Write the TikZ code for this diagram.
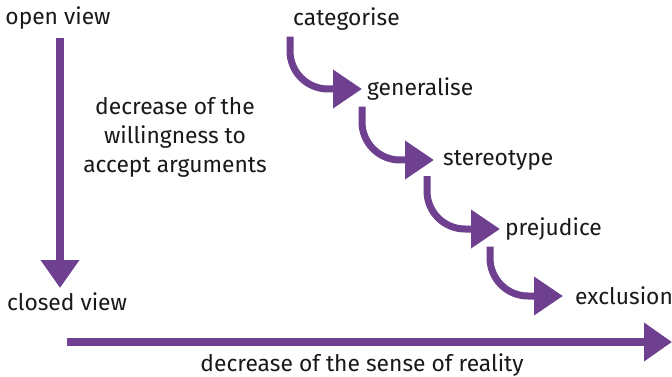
\documentclass[tikz,border=0pt]{standalone}
\usepackage{fontspec}
\setmainfont{Fira Sans}
\usetikzlibrary{arrows.meta}
\definecolor{vio}{RGB}{112,64,144}
\definecolor{ink}{RGB}{25,25,25}
\tikzset{
  lbl/.style={text=ink, font=\fontsize{22.8}{29}\selectfont, inner sep=0pt},
  bigarrow/.style={draw=vio, line width=8pt, -{Triangle[length=28pt,width=37pt]}},
  curvarrow/.style={draw=vio, line width=7pt, rounded corners=38pt, -{Triangle[length=29pt,width=37pt]}}
}
\begin{document}
\begin{tikzpicture}[x=1pt,y=-1pt]
\useasboundingbox[fill=white] (0,0) rectangle (672,377);
% left column
\node[lbl] (open) at (58,18) {open view};
\node[lbl] (closed) at (67,302) {closed view};
\coordinate (vs) at (60,38);
\coordinate (ve) at (60,288);
\draw[bigarrow] (vs) -- (ve);
\node[lbl, align=center] (dec) at (175,137) {decrease of the\\willingness to\\accept arguments};
% bottom
\coordinate (hs) at (67,342);
\coordinate (he) at (672,342);
\draw[bigarrow] (hs) -- (he);
\node[lbl] (real) at (362,365) {decrease of the sense of reality};
% steps
\node[lbl, anchor=west] (cat) at (293,19) {categorise};
\node[lbl, anchor=west] (gen) at (367,89) {generalise};
\node[lbl, anchor=west] (ste) at (443,160) {stereotype};
\node[lbl, anchor=west] (pre) at (505,229) {prejudice};
\node[lbl, anchor=west] (exc) at (575,296) {exclusion};
\draw[curvarrow] ([xshift=-3pt,yshift=-6pt]cat.south west) |- ([xshift=-5pt]gen.west);
\draw[curvarrow] ([xshift=-5pt,yshift=-6pt]gen.south west) |- ([xshift=-9pt]ste.west);
\draw[curvarrow] ([xshift=-16pt,yshift=-6pt]ste.south west) |- ([xshift=-5pt]pre.west);
\draw[curvarrow] ([xshift=-15pt,yshift=-6pt]pre.south west) |- ([xshift=-12pt]exc.west);
\end{tikzpicture}
\end{document}
